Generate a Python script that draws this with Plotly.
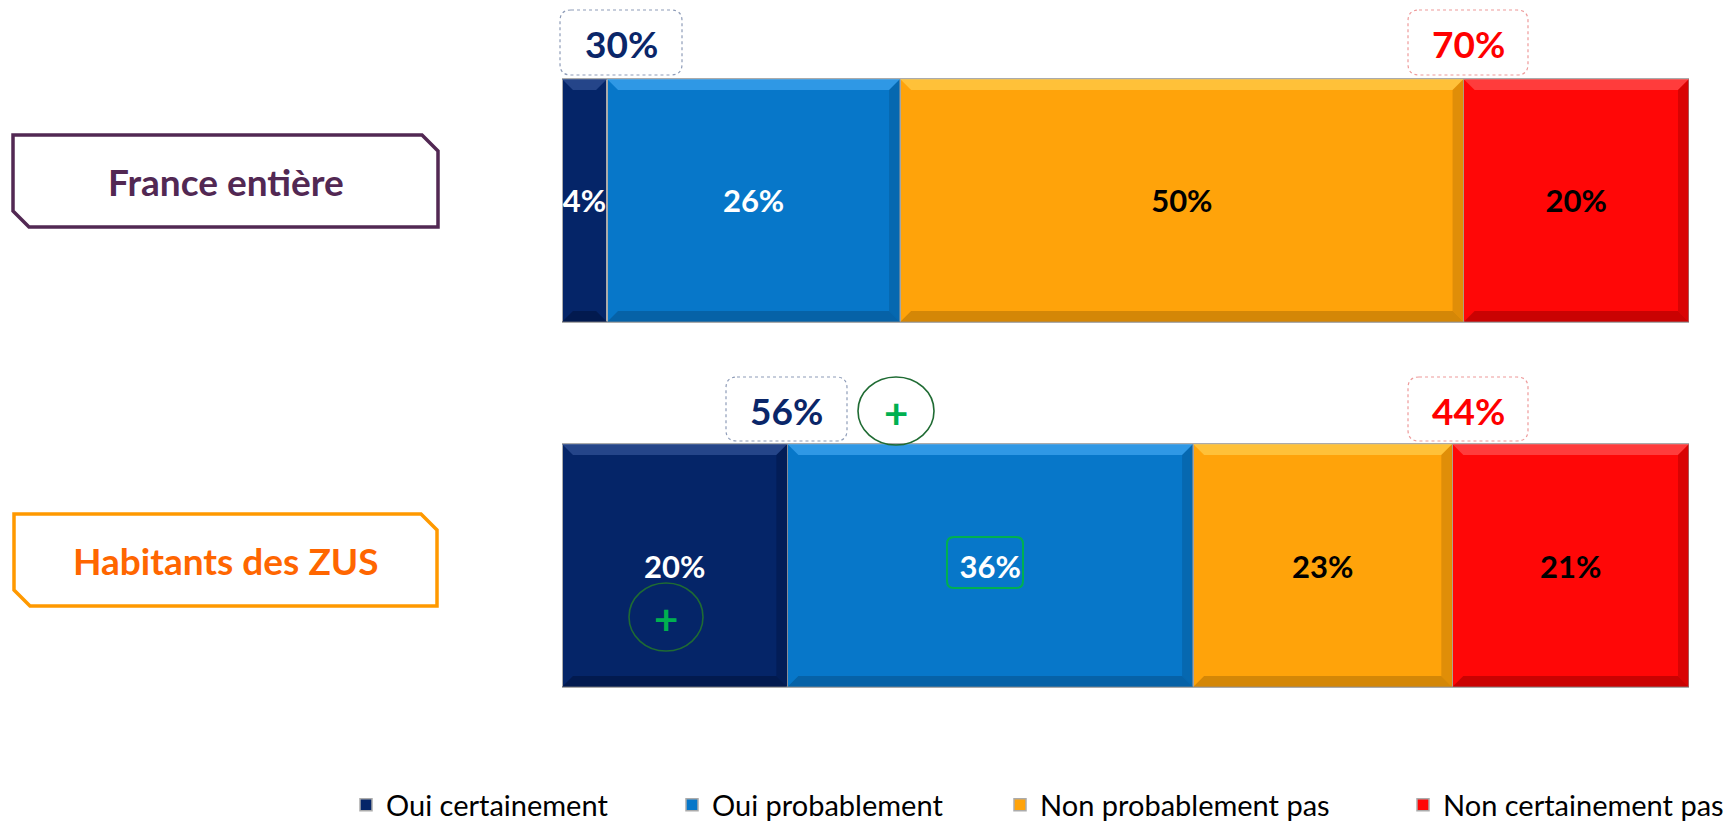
import plotly.graph_objects as go

# ---------------- data ----------------
categories = ["Habitants des ZUS", "France entière"]
series_names = ["Oui certainement", "Oui probablement", "Non probablement pas", "Non certainement pas"]
oui_certainement = [20, 4]
oui_probablement = [36, 26]
non_probablement_pas = [23, 50]
non_certainement_pas = [21, 20]
series_values = [oui_certainement, oui_probablement, non_probablement_pas, non_certainement_pas]

# ---------------- style ----------------
colors = ["#052568", "#0777C9", "#FFA30A", "#FF0707"]
light = ["#2D4E91", "#3AA0EC", "#FFC845", "#FF4A4A"]
dark = ["#021545", "#055A98", "#C27A05", "#B30000"]
text_colors = ["white", "white", "black", "black"]
FONT = "Lato"

W, H = 1729, 822
ML, MR, MT, MB = 562, 40, 18, 74
PW, PH = W - ML - MR, H - MT - MB


def px(x):
    return (x - ML) / PW


def py(y):
    return (MT + PH - y) / PH


def P(x, y):
    return f"{px(x):.5f},{py(y):.5f}"


def rrect(x0, y0, x1, y1, r):
    return (f"M{P(x0 + r, y0)} L{P(x1 - r, y0)} Q{P(x1, y0)} {P(x1, y0 + r)} "
            f"L{P(x1, y1 - r)} Q{P(x1, y1)} {P(x1 - r, y1)} L{P(x0 + r, y1)} "
            f"Q{P(x0, y1)} {P(x0, y1 - r)} L{P(x0, y0 + r)} Q{P(x0, y0)} {P(x0 + r, y0)} Z")


def cutbox(x0, y0, x1, y1, c):
    return (f"M{P(x0, y0)} L{P(x1 - c, y0)} L{P(x1, y0 + c)} L{P(x1, y1)} "
            f"L{P(x0 + c, y1)} L{P(x0, y1 - c)} Z")


fig = go.Figure()
legend_ids = ["legend", "legend2", "legend3", "legend4"]
for k, (name, vals) in enumerate(zip(series_names, series_values)):
    fig.add_trace(go.Bar(
        y=categories, x=vals, name=name, orientation="h",
        marker=dict(color=colors[k], line=dict(color="#ABABAB", width=1.5)),
        texttemplate="%{x}%", textposition="inside", insidetextanchor="middle",
        constraintext="none", textangle=0,
        insidetextfont=dict(family=FONT, size=31, color=text_colors[k], weight="bold"),
        legend=legend_ids[k], width=0.666, hoverinfo="skip",
    ))

shapes = []
# bevel decoration computed from data
BW = 0.666
h = BW / 2
bx = 11 / PW * 100
by = 11 / (PH / 2)


def pth(pts):
    return "M" + " L".join(f"{a:.5f},{c:.5f}" for a, c in pts) + " Z"


for i, cat in enumerate(categories):
    cum = 0
    for k, vals in enumerate(series_values):
        x0, x1 = cum, cum + vals[i]
        cum = x1
        t, b = i + h, i - h
        shapes.append(dict(type="path", xref="x", yref="y", layer="above", line=dict(width=0),
                           fillcolor=light[k], opacity=0.8,
                           path=pth([(x0, t), (x1, t), (x1 - bx, t - by), (x0 + bx, t - by)])))
        shapes.append(dict(type="path", xref="x", yref="y", layer="above", line=dict(width=0),
                           fillcolor=dark[k], opacity=0.7,
                           path=pth([(x0, b), (x1, b), (x1 - bx, b + by), (x0 + bx, b + by)])))
        if vals[i] >= 10:
            shapes.append(dict(type="path", xref="x", yref="y", layer="above", line=dict(width=0),
                               fillcolor=dark[k], opacity=0.5,
                               path=pth([(x1, t), (x1, b), (x1 - bx, b + by), (x1 - bx, t - by)])))

annotations = []

# category label boxes
label_boxes = {
    "France entière": dict(box=(13, 135, 438, 227), line="#522853", text="#522853"),
    "Habitants des ZUS": dict(box=(14, 514, 437, 606), line="#FF9900", text="#FF6600"),
}
for cat in categories:
    spec = label_boxes[cat]
    x0, y0, x1, y1 = spec["box"]
    shapes.append(dict(type="path", xref="paper", yref="paper", path=cutbox(x0, y0, x1, y1, 16),
                       line=dict(color=spec["line"], width=3.5), fillcolor="white"))
    annotations.append(dict(xref="paper", yref="paper", x=px((x0 + x1) / 2), y=py((y0 + y1) / 2),
                            text=cat, showarrow=False, xanchor="center", yanchor="middle",
                            font=dict(family=FONT, size=37, color=spec["text"], weight="bold")))

# summary boxes (sum of yes / sum of no)
summary_boxes = {
    "France entière": [(560, 10, 682, 75), (1408, 10, 1528, 75)],
    "Habitants des ZUS": [(726, 377, 847, 441), (1408, 377, 1528, 441)],
}
for i, cat in enumerate(categories):
    pos_total = oui_certainement[i] + oui_probablement[i]
    neg_total = non_probablement_pas[i] + non_certainement_pas[i]
    for (x0, y0, x1, y1), val, col, bcol in zip(summary_boxes[cat], [pos_total, neg_total],
                                               ["#0A2669", "#FF0000"], ["#8E9CB8", "#EE9A9A"]):
        shapes.append(dict(type="path", xref="paper", yref="paper", path=rrect(x0, y0, x1, y1, 11),
                           line=dict(color=bcol, width=1.2, dash="dot"), fillcolor="white"))
        annotations.append(dict(xref="paper", yref="paper", x=px((x0 + x1) / 2), y=py((y0 + y1) / 2 + 1),
                                text=f"{val}%", showarrow=False, xanchor="center", yanchor="middle",
                                font=dict(family=FONT, size=37, color=col, weight="bold")))

# significance markers
GREEN = "#00B050"
for (cx, cy, rx, ry) in [(896, 411, 38, 34), (666, 617, 37, 34)]:
    shapes.append(dict(type="circle", xref="paper", yref="paper",
                       x0=px(cx - rx), x1=px(cx + rx), y0=py(cy + ry), y1=py(cy - ry),
                       line=dict(color="#1F6B33", width=1.6)))
    annotations.append(dict(xref="paper", yref="paper", x=px(cx), y=py(cy + 2), text="+",
                            showarrow=False, xanchor="center", yanchor="middle",
                            font=dict(family=FONT, size=42, color=GREEN, weight="bold")))
shapes.append(dict(type="path", xref="paper", yref="paper", path=rrect(947, 537, 1023, 588, 7),
                   line=dict(color=GREEN, width=2)))

legend_x = [346, 672, 1000, 1403]
layout_legends = {}
for lid, lx in zip(legend_ids, legend_x):
    layout_legends[lid] = dict(x=px(lx), y=py(805), xanchor="left", yanchor="middle",
                               orientation="h", bgcolor="rgba(0,0,0,0)",
                               font=dict(family=FONT, size=29, color="black"))

fig.update_layout(
    width=W, height=H, barmode="stack",
    margin=dict(l=ML, r=MR, t=MT, b=MB, autoexpand=False),
    paper_bgcolor="white", plot_bgcolor="white",
    xaxis=dict(range=[0, 100], visible=False, fixedrange=True),
    yaxis=dict(type="category", categoryorder="array", categoryarray=categories,
               range=[-0.5, 1.5], visible=False, fixedrange=True),
    shapes=shapes, annotations=annotations, showlegend=True,
    **layout_legends,
)

fig.write_html("out.html", config={"displayModeBar": False},
               post_script="document.body.style.margin='0';document.body.style.overflow='hidden';")
